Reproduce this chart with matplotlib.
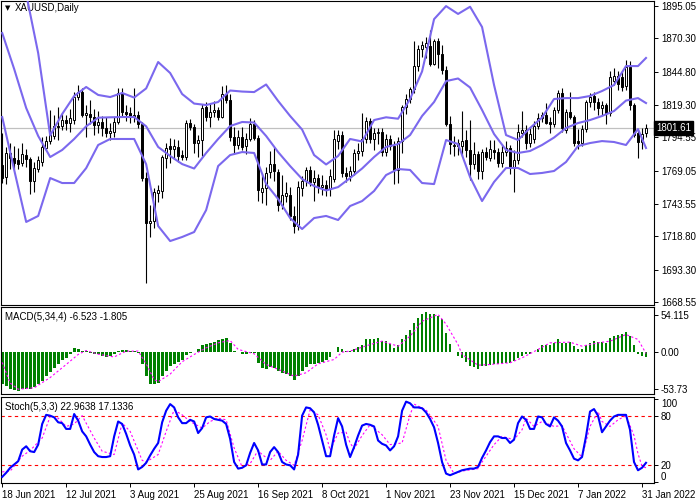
import numpy as np
import matplotlib
matplotlib.use("Agg")
import matplotlib.pyplot as plt

plt.rcParams['font.family'] = ['Liberation Sans', 'DejaVu Sans']
plt.rcParams['font.size'] = 7

# XAUUSD daily candles, 18 Jun 2021 .. 1 Feb 2022
opens = [
    1773.4, 1764.0, 1782.5, 1779.0, 1777.0, 1775.0, 1781.0, 1778.0, 1761.5, 1770.5,
    1776.0, 1786.5, 1791.5, 1795.5, 1803.5, 1803.0, 1808.0, 1805.5, 1807.5, 1825.5,
    1829.0, 1811.5, 1812.5, 1810.0, 1804.0, 1806.5, 1801.5, 1797.5, 1799.0, 1806.5,
    1828.5, 1814.0, 1813.0, 1810.0, 1812.0, 1804.5, 1763.5, 1729.0, 1730.5, 1752.0,
    1753.5, 1779.0, 1788.0, 1786.0, 1787.5, 1781.0, 1779.5, 1805.5, 1802.5, 1790.0,
    1792.5, 1817.5, 1810.0, 1814.0, 1815.5, 1810.0, 1827.5, 1823.0, 1794.5, 1788.5,
    1795.0, 1788.0, 1793.5, 1805.0, 1794.0, 1753.0, 1755.5, 1768.0, 1774.0, 1768.0,
    1742.5, 1750.0, 1750.5, 1734.5, 1726.5, 1756.0, 1761.0, 1769.5, 1760.5, 1763.5,
    1756.5, 1758.0, 1755.0, 1763.0, 1792.0, 1796.5, 1767.5, 1765.0, 1769.0, 1782.5,
    1784.0, 1793.0, 1807.0, 1793.0, 1797.5, 1799.0, 1783.5, 1793.5, 1788.0, 1769.5,
    1792.0, 1818.0, 1824.0, 1831.5, 1849.0, 1862.5, 1864.0, 1864.5, 1851.0, 1868.0,
    1858.0, 1846.0, 1804.5, 1788.0, 1790.0, 1788.0, 1792.5, 1785.0, 1774.5, 1781.5,
    1768.5, 1783.5, 1779.0, 1785.0, 1783.0, 1775.0, 1783.0, 1786.5, 1771.0, 1777.5,
    1798.0, 1800.0, 1790.5, 1793.0, 1803.5, 1809.5, 1812.0, 1806.0, 1805.0, 1815.5,
    1828.5, 1800.5, 1814.0, 1810.5, 1792.0, 1790.0, 1801.0, 1821.5, 1826.5, 1821.5,
    1817.0, 1819.5, 1813.5, 1837.5, 1841.5, 1840.5, 1833.5, 1848.5, 1819.5, 1797.5,
    1791.0, 1797.5,
]
highs = [
    1797.9, 1787.0, 1790.0, 1788.0, 1786.5, 1790.0, 1786.0, 1779.5, 1775.5, 1780.5,
    1795.0, 1795.5, 1815.5, 1811.5, 1818.0, 1813.5, 1811.5, 1816.5, 1829.0, 1834.5,
    1832.0, 1819.0, 1823.0, 1816.0, 1815.0, 1811.0, 1810.5, 1805.5, 1810.0, 1832.5,
    1832.5, 1819.5, 1818.0, 1832.0, 1815.0, 1806.0, 1768.0, 1742.5, 1756.0, 1758.0,
    1781.0, 1790.0, 1794.0, 1793.5, 1792.5, 1785.0, 1808.0, 1808.5, 1805.0, 1796.5,
    1820.0, 1821.5, 1821.0, 1822.0, 1817.5, 1834.0, 1834.5, 1827.5, 1802.5, 1800.5,
    1802.5, 1798.0, 1809.0, 1808.0, 1796.5, 1767.0, 1771.5, 1784.0, 1787.5, 1770.0,
    1765.5, 1760.5, 1756.5, 1742.0, 1761.0, 1765.0, 1772.0, 1773.0, 1769.5, 1766.5,
    1766.0, 1762.0, 1770.5, 1800.5, 1800.5, 1799.5, 1772.0, 1773.0, 1785.5, 1790.0,
    1813.0, 1810.0, 1809.0, 1802.0, 1801.5, 1801.5, 1797.0, 1796.0, 1792.0, 1795.0,
    1819.0, 1828.0, 1833.0, 1868.5, 1865.0, 1868.0, 1871.0, 1877.0, 1870.0, 1870.5,
    1865.5, 1849.5, 1811.0, 1795.5, 1793.5, 1815.0, 1800.0, 1808.0, 1791.0, 1784.0,
    1786.0, 1787.5, 1792.5, 1792.5, 1786.5, 1789.5, 1791.5, 1789.0, 1785.0, 1804.5,
    1814.5, 1804.0, 1802.0, 1807.0, 1813.0, 1814.0, 1820.5, 1810.5, 1818.0, 1831.0,
    1832.0, 1816.5, 1829.0, 1812.0, 1801.0, 1804.0, 1823.5, 1828.5, 1829.0, 1824.5,
    1822.5, 1821.0, 1845.0, 1847.5, 1845.0, 1845.5, 1853.5, 1853.0, 1820.5, 1800.5,
    1802.0, 1804.5,
]
lows = [
    1759.6, 1759.0, 1770.5, 1770.0, 1770.5, 1772.5, 1771.5, 1751.0, 1753.0, 1768.0,
    1773.0, 1784.5, 1789.5, 1793.0, 1792.5, 1800.0, 1800.0, 1799.0, 1804.5, 1823.0,
    1810.0, 1794.5, 1805.0, 1796.5, 1797.5, 1795.5, 1794.5, 1792.5, 1795.0, 1805.0,
    1810.0, 1807.0, 1805.5, 1806.5, 1801.5, 1761.0, 1683.0, 1718.0, 1725.0, 1745.0,
    1748.0, 1771.0, 1775.0, 1778.0, 1775.5, 1777.0, 1777.5, 1800.0, 1782.5, 1779.5,
    1780.5, 1807.0, 1802.5, 1810.5, 1807.5, 1809.0, 1820.5, 1792.0, 1782.0, 1785.5,
    1785.0, 1781.5, 1792.0, 1792.5, 1745.5, 1744.0, 1742.5, 1763.5, 1761.0, 1738.5,
    1740.0, 1745.0, 1731.0, 1721.5, 1723.5, 1749.5, 1757.0, 1757.0, 1746.0, 1752.0,
    1750.5, 1749.5, 1749.5, 1760.5, 1786.0, 1764.5, 1760.5, 1761.0, 1765.5, 1777.0,
    1780.5, 1790.5, 1790.0, 1784.5, 1789.5, 1780.5, 1780.0, 1785.0, 1758.5, 1759.5,
    1782.5, 1812.5, 1821.0, 1828.5, 1845.5, 1856.0, 1855.5, 1849.0, 1850.0, 1847.5,
    1843.0, 1803.5, 1782.0, 1780.5, 1781.0, 1780.5, 1779.5, 1762.0, 1770.5, 1762.5,
    1762.5, 1777.5, 1776.5, 1778.0, 1771.5, 1771.5, 1780.0, 1766.5, 1752.5, 1774.5,
    1794.5, 1786.0, 1787.0, 1790.0, 1801.0, 1806.5, 1804.5, 1797.5, 1802.5, 1813.5,
    1798.5, 1798.0, 1808.5, 1788.0, 1785.5, 1788.0, 1799.0, 1818.0, 1815.5, 1811.5,
    1812.0, 1804.5, 1811.0, 1834.5, 1830.5, 1830.0, 1830.5, 1815.5, 1794.5, 1779.0,
    1785.5, 1794.5,
]
closes = [
    1763.5, 1782.5, 1778.5, 1775.0, 1774.0, 1782.0, 1778.0, 1761.5, 1771.0, 1777.0,
    1787.0, 1792.0, 1796.5, 1803.5, 1802.5, 1808.0, 1805.5, 1809.5, 1825.5, 1829.0,
    1812.0, 1813.0, 1810.5, 1804.0, 1806.5, 1801.5, 1797.5, 1799.5, 1806.5, 1828.5,
    1814.0, 1812.5, 1810.0, 1812.0, 1804.5, 1763.5, 1729.0, 1730.5, 1752.5, 1754.0,
    1779.5, 1786.5, 1786.0, 1788.0, 1780.0, 1779.5, 1805.5, 1802.5, 1790.0, 1792.5,
    1817.0, 1810.0, 1814.0, 1815.5, 1810.0, 1827.5, 1823.0, 1794.5, 1788.5, 1795.0,
    1787.5, 1793.5, 1805.0, 1794.0, 1754.5, 1755.5, 1767.0, 1774.5, 1768.5, 1742.5,
    1750.5, 1752.0, 1734.0, 1726.5, 1756.5, 1761.0, 1769.5, 1760.5, 1763.5, 1756.5,
    1758.0, 1754.5, 1765.0, 1793.5, 1796.5, 1767.5, 1765.0, 1769.0, 1782.5, 1784.0,
    1793.0, 1807.0, 1793.0, 1798.0, 1799.0, 1783.5, 1793.5, 1788.0, 1769.5, 1792.0,
    1818.0, 1824.0, 1831.5, 1849.0, 1862.5, 1865.0, 1866.5, 1851.0, 1868.0, 1858.0,
    1846.0, 1805.0, 1789.5, 1789.0, 1788.0, 1792.0, 1785.0, 1774.5, 1781.5, 1768.5,
    1783.5, 1779.5, 1785.5, 1783.0, 1775.0, 1783.0, 1786.5, 1771.0, 1777.5, 1798.5,
    1800.0, 1790.5, 1797.0, 1803.5, 1809.5, 1811.5, 1805.5, 1805.0, 1815.5, 1828.5,
    1801.5, 1814.0, 1810.5, 1790.5, 1790.0, 1801.0, 1821.5, 1825.5, 1821.5, 1817.0,
    1819.5, 1813.5, 1841.0, 1841.5, 1835.5, 1833.0, 1848.5, 1819.5, 1796.5, 1791.0,
    1797.0, 1801.61,
]

# Bollinger bands, read every third bar
band_bars = list(range(0, 160, 3)) + [161]
bb_upper = [
    1938.7, 1922.0, 1904.2, 1859.0, 1796.0, 1812.4, 1826.2, 1833.1, 1827.0, 1825.4,
    1828.5, 1825.0, 1832.0, 1852.2, 1843.8, 1827.7, 1820.4, 1819.3, 1821.6, 1830.4,
    1829.6, 1829.2, 1835.0, 1822.4, 1810.9, 1800.5, 1781.0, 1773.8, 1780.3, 1793.3,
    1791.4, 1807.8, 1809.9, 1808.8, 1823.9, 1845.0, 1885.0, 1895.0, 1889.0, 1894.5,
    1879.0, 1834.6, 1796.3, 1792.5, 1801.7, 1809.7, 1823.9, 1824.6, 1824.6, 1826.2,
    1830.0, 1834.6, 1849.1, 1849.1, 1855.3,
]
bb_middle = [
    1874.4, 1846.8, 1817.0, 1795.6, 1779.5, 1784.9, 1793.3, 1803.0, 1809.6, 1809.9,
    1810.1, 1810.1, 1803.0, 1787.2, 1780.3, 1774.1, 1770.7, 1782.6, 1793.3, 1803.2,
    1806.3, 1805.9, 1795.6, 1783.3, 1772.6, 1762.7, 1757.3, 1753.9, 1756.5, 1763.4,
    1770.7, 1779.5, 1787.2, 1789.4, 1796.3, 1810.9, 1821.6, 1837.6, 1839.6, 1832.7,
    1815.5, 1797.1, 1784.9, 1782.6, 1784.1, 1788.7, 1794.4, 1801.7, 1805.5, 1807.8,
    1810.9, 1814.7, 1822.7, 1824.6, 1820.8,
]
bb_lower = [
    1810.1, 1769.6, 1729.8, 1734.4, 1763.4, 1759.6, 1759.6, 1771.0, 1788.7, 1793.3,
    1793.3, 1793.3, 1774.0, 1726.7, 1715.2, 1718.3, 1722.1, 1738.9, 1772.6, 1781.0,
    1783.3, 1782.6, 1758.8, 1747.4, 1732.8, 1724.4, 1732.8, 1734.4, 1731.3, 1742.0,
    1745.8, 1753.5, 1765.7, 1770.3, 1769.6, 1759.6, 1758.8, 1792.5, 1789.4, 1764.2,
    1745.8, 1760.4, 1771.1, 1771.1, 1766.5, 1767.3, 1768.8, 1775.7, 1787.9, 1790.2,
    1791.7, 1791.0, 1788.7, 1800.9, 1786.4,
]

# MACD(5,34,4)
macd_hist = [
    -46, -49.5, -53, -55, -56, -54, -54, -53, -51, -47,
    -42, -35, -29, -23, -17, -12, -8, -3.4, 6, 4,
    2.4, 2.4, -1, -3.4, -3.4, -6, -7, -6, -2.4, 2.4,
    3.4, 3.4, 2.4, 1.5, -1.5, -17, -35, -47, -46, -45,
    -35, -28, -20, -17, -14, -12, -4.4, -1.5, 0.5, 4,
    10, 12, 14, 15, 17, 18.5, 21, 14, 2.4, 0.5,
    -2.4, -2.4, -1, -1.5, -15.5, -23, -24, -22, -23, -28,
    -30, -31.5, -35, -40, -35, -28, -22, -18, -17, -15.5,
    -14, -12, -7, 0.5, 8, 4, 1.5, 1.5, 4, 7,
    11, 18.5, 18.5, 19.5, 20, 16, 16, 12, 6.3, 10,
    18.5, 25.7, 33, 42, 50, 56, 59, 56, 56, 52.5,
    47.6, 28, 12, 0.5, -6, -8, -14, -20, -22, -24,
    -20, -20, -19, -18, -17, -16, -15.5, -15.5, -13, -9,
    -5, -2.4, -3.4, 0.5, 5, 10, 10, 11, 13.6, 19.5,
    13.6, 13.6, 15, 8.7, 4, 5, 10, 13.6, 16, 15,
    15, 13.6, 20, 24, 24.8, 26.7, 29.6, 23.3, 10, -2.4,
    -6, -6.5,
]
macd_sig_bars = [0, 2, 4, 8, 12, 16, 19, 21, 24, 28, 31, 34, 36, 38, 39, 42, 45, 48,
                 51, 54, 57, 59, 63, 66, 69, 73, 76, 79, 83, 85, 87, 92, 95, 99, 102,
                 105, 109, 111, 114, 115, 119, 122, 127, 130, 134, 137, 142, 145, 149,
                 152, 156, 159, 161]
macd_signal = [-15, -45, -54, -52, -37, -18, -3.4, 2.4, -3, -7, 1.5, 1.5, -17, -40, -43,
               -32, -14, -3.4, 6.3, 13.6, 17, 4, -2.4, -18, -25, -35, -30, -17, -10.7, 0,
               1.5, 11, 16, 8.7, 23.3, 45, 55, 40.8, 11, -3.4, -19, -18, -15.5, -8.3,
               3.9, 13.6, 14.6, 8.7, 13.6, 16, 25.7, 18.5, -1.8]

# Stochastic(5,3,3)
stoch_main = [
    6, 11, 17, 21, 25, 39, 43, 37, 36, 45,
    70, 81, 80, 78, 72, 71, 64, 64, 82, 74,
    61, 55, 45, 36, 31, 30, 30, 31, 55, 73,
    70, 58, 44, 33, 15, 18, 23, 32, 40, 47,
    72, 86, 94, 90, 78, 71, 71, 75, 73, 59,
    65, 78, 79, 76, 75, 74, 70, 52, 24, 16,
    17, 20, 35, 47, 38, 21, 21, 36, 42, 36,
    24, 21, 20, 15, 33, 80, 90, 89, 84, 69,
    50, 31, 31, 56, 77, 67, 45, 30, 42, 56,
    68, 70, 69, 67, 50, 46, 44, 38, 43, 55,
    86, 97, 95, 90, 90, 89, 84, 76, 66, 47,
    24, 10, 8, 10, 12, 14, 15, 16, 16, 18,
    29, 38, 48, 55, 55, 53, 53, 47, 51, 71,
    79, 75, 64, 64, 79, 78, 70, 67, 78, 74,
    67, 47, 38, 28, 26, 30, 55, 85, 88, 80,
    60, 67, 74, 79, 81, 81, 81, 63, 24, 14,
    17, 23,
]
stoch_sig_bars = [0, 2, 5, 7, 10, 12, 14, 16, 18, 20, 21, 23, 25, 28, 30, 32, 35, 36, 39,
                  41, 43, 45, 47, 50, 52, 54, 56, 58, 60, 62, 64, 65, 67, 69, 71, 73, 75,
                  77, 79, 81, 82, 84, 86, 87, 88, 90, 92, 95, 97, 100, 102, 103, 106, 109,
                  111, 113, 115, 119, 120, 123, 125, 128, 130, 131, 133, 135, 138, 140,
                  143, 145, 147, 149, 150, 152, 154, 156, 158, 159, 160, 161]
stoch_signal = [12, 13, 31, 38, 53, 79, 77, 67, 70, 80, 71, 53, 37, 33, 71, 61, 26, 24, 33,
                61, 87, 81, 73, 65, 73, 77, 75, 41, 18, 22, 38, 33, 26, 37, 26, 20, 50,
                87, 81, 57, 38, 59, 60, 47, 40, 56, 69, 57, 45, 47, 81, 94, 87, 67,
                26, 10, 13, 16, 24, 45, 55, 51, 63, 77, 67, 73, 67, 68,
                40, 30, 67, 85, 73, 67, 75, 80, 56, 34, 19, 17]

date_ticks = list(range(0, 161, 16))
date_labels = ['18 Jun 2021', '12 Jul 2021', '3 Aug 2021', '25 Aug 2021', '16 Sep 2021',
               '8 Oct 2021', '1 Nov 2021', '23 Nov 2021', '15 Dec 2021', '7 Jan 2022',
               '31 Jan 2022']
price_ticks = [1895.05, 1870.30, 1844.80, 1819.30, 1794.55, 1769.05, 1743.55,
               1718.80, 1693.30, 1668.55]

BAND = '#7b68ee'

fig = plt.figure(figsize=(7, 5), dpi=100)

def panel(top, bottom):
    # panel edges given in pixels of the 700x500 canvas
    return [1 / 700, 1 - bottom / 500, 653 / 700, (bottom - top) / 500]

ax_p = fig.add_axes(panel(1, 305))
ax_m = fig.add_axes(panel(307, 394), sharex=ax_p)
ax_s = fig.add_axes(panel(397, 483), sharex=ax_p)

for ax in (ax_p, ax_m, ax_s):
    for sp in ax.spines.values():
        sp.set_linewidth(0.8)
        sp.set_color('black')
    ax.yaxis.tick_right()
    ax.tick_params(axis='y', direction='out', length=3, width=0.7, pad=2, labelsize=7)
    ax.tick_params(axis='x', length=0, labelbottom=False)

# price panel
bars = np.arange(len(closes))
o, h, l, c = (np.array(v) for v in (opens, highs, lows, closes))
up = c >= o
ax_p.axhline(closes[-1], color='#c0c0c0', lw=0.9, zorder=0)
ax_p.vlines(bars, l, h, color='black', lw=0.8, zorder=2)
ax_p.bar(bars, np.abs(c - o), bottom=np.minimum(o, c), width=0.6,
         color=np.where(up, 'white', 'black'), edgecolor='black', linewidth=0.7, zorder=3)
for band in (bb_upper, bb_middle, bb_lower):
    ax_p.plot(band_bars, band, color=BAND, lw=1.5, zorder=4)

ax_p.set_xlim(-0.3, 163)
ax_p.set_ylim(1666.25, 1898.9)
ax_p.set_yticks(price_ticks)
ax_p.set_yticklabels([f'{v:.2f}' for v in price_ticks])
ax_p.text(1.003, closes[-1], f'{closes[-1]:.2f}', transform=ax_p.get_yaxis_transform(),
          color='white', fontsize=7, va='center', ha='left', zorder=10, clip_on=False,
          bbox=dict(facecolor='black', edgecolor='black', pad=1.6))
ax_p.annotate('XAUUSD,Daily', xy=(0, 1), xycoords='axes fraction', xytext=(14, -7),
              textcoords='offset pixels', va='center', ha='left', fontsize=7)
ax_p.annotate('\u25bc', xy=(0, 1), xycoords='axes fraction', xytext=(4, -7),
              textcoords='offset pixels', va='center', ha='left', fontsize=5,
              family='DejaVu Sans')

# MACD panel
ax_m.bar(bars, macd_hist, width=0.7, color='#008000', zorder=2)
ax_m.plot(macd_sig_bars, macd_signal, color='#ff00ff', lw=0.8, ls=(0, (2, 2)), zorder=3)
ax_m.set_ylim(-61.0, 65.8)
ax_m.set_yticks([54.115, 0, -53.73])
ax_m.set_yticklabels(['54.115', '0.00', '-53.73'])
ax_m.annotate('MACD(5,34,4) -6.523 -1.805', xy=(0, 1), xycoords='axes fraction',
              xytext=(4, -10), textcoords='offset pixels', va='center', ha='left',
              fontsize=7)

# Stochastic panel
ax_s.axhline(80, color='red', lw=0.8, ls=(0, (3, 3)))
ax_s.axhline(20, color='red', lw=0.8, ls=(0, (3, 3)))
ax_s.plot(stoch_sig_bars, stoch_signal, color='#ff00ff', lw=0.8, ls=(0, (2, 2)), zorder=3)
ax_s.plot(bars, stoch_main, color='#0000ff', lw=1.5, zorder=4)
ax_s.set_ylim(-1.4, 102.6)
ax_s.set_yticks([100, 80, 20, 0])
ax_s.set_yticklabels(['100', '80', '20', '0'])
ylabs = ax_s.get_yticklabels()
ylabs[0].set_va('top')
ylabs[-1].set_va('bottom')
ax_s.annotate('Stoch(5,3,3) 22.9638 17.1336', xy=(0, 1), xycoords='axes fraction',
              xytext=(4, -10), textcoords='offset pixels', va='center', ha='left',
              fontsize=7)

ax_s.set_xticks(date_ticks)
ax_s.set_xticklabels(date_labels)
ax_s.tick_params(axis='x', length=3, width=0.7, direction='out', pad=2,
                 labelbottom=True, labelsize=7)
for t in ax_s.get_xticklabels():
    t.set_ha('left')

fig.savefig('out.png', dpi=100)
